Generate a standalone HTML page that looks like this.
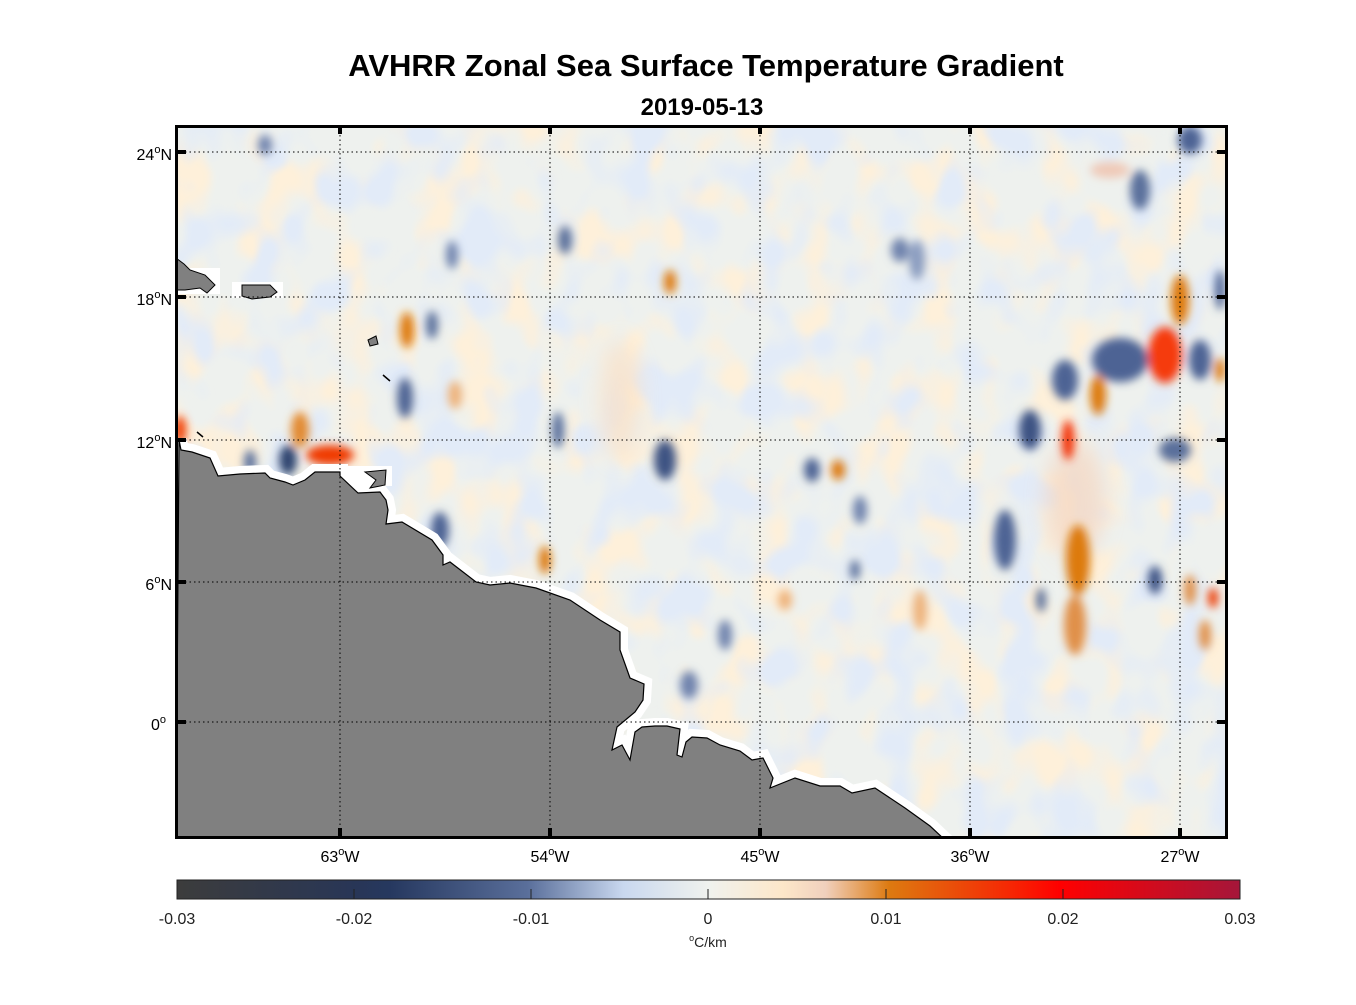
<!DOCTYPE html>
<html><head><meta charset="utf-8">
<style>
body{margin:0;background:#fff;width:1356px;height:1000px;overflow:hidden;font-family:"Liberation Sans",Arial,sans-serif}
</style></head><body>
<svg width="1356" height="1000" xmlns="http://www.w3.org/2000/svg" font-family="Liberation Sans, Arial, sans-serif">
<defs>
<clipPath id="pc"><rect x="176" y="126" width="1051" height="712"/></clipPath>
<filter id="bl" x="-50%" y="-50%" width="200%" height="200%"><feGaussianBlur stdDeviation="4.5"/></filter>
<filter id="bl3" x="-50%" y="-50%" width="200%" height="200%"><feGaussianBlur stdDeviation="10"/></filter>
<filter id="tor" x="0" y="0" width="100%" height="100%">
<feTurbulence type="fractalNoise" baseFrequency="0.024 0.019" numOctaves="2" seed="4"/>
<feColorMatrix type="matrix" values="0 0 0 0 0.99  0 0 0 0 0.87  0 0 0 0 0.70  4.5 0 0 0 -2.15"/>
<feGaussianBlur stdDeviation="2"/>
</filter>
<filter id="tbl" x="0" y="0" width="100%" height="100%">
<feTurbulence type="fractalNoise" baseFrequency="0.024 0.019" numOctaves="2" seed="11"/>
<feColorMatrix type="matrix" values="0 0 0 0 0.76  0 0 0 0 0.83  0 0 0 0 0.94  4.5 0 0 0 -2.15"/>
<feGaussianBlur stdDeviation="2"/>
</filter>
<linearGradient id="cb" x1="0" x2="1" y1="0" y2="0">
<stop offset="0" stop-color="#3c3c3c"/>
<stop offset="0.17" stop-color="#283657"/>
<stop offset="0.2" stop-color="#26385f"/>
<stop offset="0.33" stop-color="#5a6f9b"/>
<stop offset="0.42" stop-color="#c9d8ef"/>
<stop offset="0.5" stop-color="#f0f2ee"/>
<stop offset="0.57" stop-color="#fde7c9"/>
<stop offset="0.61" stop-color="#f0d0bd"/>
<stop offset="0.67" stop-color="#dd7a10"/>
<stop offset="0.78" stop-color="#f52a04"/>
<stop offset="0.83" stop-color="#ff0000"/>
<stop offset="1" stop-color="#a5163a"/>
</linearGradient>
</defs>
<text x="706" y="76" text-anchor="middle" font-size="31" font-weight="bold">AVHRR Zonal Sea Surface Temperature Gradient</text>
<text x="702" y="115" text-anchor="middle" font-size="24" font-weight="bold">2019-05-13</text>

<g clip-path="url(#pc)">
<rect x="176" y="126" width="1051" height="712" fill="#eef1ee"/>
<rect x="176" y="126" width="1051" height="712" filter="url(#tor)"/>
<rect x="176" y="126" width="1051" height="712" filter="url(#tbl)"/>
<g filter="url(#bl3)" opacity="0.7">
<ellipse cx="620" cy="400" rx="20" ry="60" fill="#fbe0c4"/>
<ellipse cx="1075" cy="500" rx="30" ry="60" fill="#f5d6c0"/>
</g>
<g filter="url(#bl)">
<ellipse cx="565" cy="240" rx="7" ry="14" fill="#5a6f9b"/>
<ellipse cx="452" cy="255" rx="6" ry="14" fill="#6f83ad"/>
<ellipse cx="407" cy="330" rx="7" ry="18" fill="#dd7a10"/>
<ellipse cx="432" cy="325" rx="6" ry="14" fill="#5a6f9b"/>
<ellipse cx="405" cy="398" rx="8" ry="20" fill="#4d6394"/>
<ellipse cx="455" cy="395" rx="7" ry="14" fill="#eeb27a"/>
<ellipse cx="670" cy="282" rx="6" ry="12" fill="#dd7a10"/>
<ellipse cx="558" cy="430" rx="6" ry="18" fill="#5a6f9b"/>
<ellipse cx="665" cy="460" rx="11" ry="20" fill="#3d5283"/>
<ellipse cx="812" cy="470" rx="8" ry="12" fill="#4d6394"/>
<ellipse cx="838" cy="470" rx="7" ry="10" fill="#dd7a10"/>
<ellipse cx="855" cy="570" rx="5" ry="10" fill="#5a6f9b"/>
<ellipse cx="545" cy="560" rx="6" ry="14" fill="#dd7a10"/>
<ellipse cx="440" cy="530" rx="9" ry="18" fill="#4d6394"/>
<ellipse cx="689" cy="685" rx="9" ry="14" fill="#6f83ad"/>
<ellipse cx="725" cy="635" rx="7" ry="15" fill="#6f83ad"/>
<ellipse cx="920" cy="610" rx="7" ry="20" fill="#eeb27a"/>
<ellipse cx="785" cy="600" rx="7" ry="10" fill="#eeb27a"/>
<ellipse cx="860" cy="510" rx="7" ry="14" fill="#6f83ad"/>
<ellipse cx="900" cy="250" rx="9" ry="12" fill="#6f83ad"/>
<ellipse cx="917" cy="260" rx="8" ry="20" fill="#8a9cc0"/>
<ellipse cx="1120" cy="360" rx="28" ry="22" fill="#4d6394"/>
<ellipse cx="1065" cy="380" rx="13" ry="20" fill="#4d6394"/>
<ellipse cx="1030" cy="430" rx="11" ry="20" fill="#3d5283"/>
<ellipse cx="1098" cy="395" rx="8" ry="20" fill="#dd7a10"/>
<ellipse cx="1068" cy="440" rx="6" ry="20" fill="#f22a04"/>
<ellipse cx="1165" cy="355" rx="17" ry="28" fill="#f53a08"/>
<ellipse cx="1180" cy="300" rx="9" ry="25" fill="#dd7a10"/>
<ellipse cx="1200" cy="360" rx="11" ry="20" fill="#4d6394"/>
<ellipse cx="1220" cy="370" rx="5" ry="12" fill="#dd7a10"/>
<ellipse cx="1175" cy="450" rx="16" ry="12" fill="#5a6f9b"/>
<ellipse cx="1005" cy="540" rx="11" ry="30" fill="#4d6394"/>
<ellipse cx="1078" cy="560" rx="12" ry="35" fill="#dd7a10"/>
<ellipse cx="1075" cy="625" rx="11" ry="30" fill="#e0904a"/>
<ellipse cx="1155" cy="580" rx="7" ry="14" fill="#3d5283"/>
<ellipse cx="1190" cy="590" rx="6" ry="15" fill="#e0904a"/>
<ellipse cx="1213" cy="598" rx="5" ry="10" fill="#ee3a05"/>
<ellipse cx="1205" cy="635" rx="6" ry="15" fill="#e0904a"/>
<ellipse cx="1041" cy="600" rx="5" ry="12" fill="#5a6f9b"/>
<ellipse cx="1220" cy="290" rx="5" ry="20" fill="#4d6394"/>
<ellipse cx="1140" cy="190" rx="10" ry="20" fill="#5a6f9b"/>
<ellipse cx="1110" cy="170" rx="20" ry="8" fill="#efc9b7"/>
<ellipse cx="300" cy="430" rx="9" ry="18" fill="#e28a30"/>
<ellipse cx="330" cy="455" rx="24" ry="10" fill="#f03a05"/>
<ellipse cx="288" cy="460" rx="9" ry="15" fill="#2e4470"/>
<ellipse cx="250" cy="462" rx="6" ry="12" fill="#5a6f9b"/>
<ellipse cx="180" cy="430" rx="6" ry="14" fill="#f03a05"/>
<ellipse cx="265" cy="145" rx="7" ry="10" fill="#6f83ad"/>
<ellipse cx="1190" cy="140" rx="12" ry="14" fill="#4d6394"/>
</g>
<g fill="#fff" stroke="#fff" stroke-width="16" stroke-linejoin="miter">
<polygon points="179,440 181,450 192,452 210,458 218,476 240,474 265,473 270,478 285,482 293,485 305,480 315,472 340,472 340,476 358,493 380,492 386,500 388,510 386,524 402,522 432,540 443,555 443,565 450,562 476,582 490,585 510,583 536,588 570,600 600,620 620,632 620,650 630,678 644,684 643,700 635,712 617,727 612,750 622,745 630,760 635,732 642,727 655,726 667,726 680,729 677,755 682,757 686,742 692,737 707,738 720,745 740,751 752,760 763,758 773,778 770,788 795,778 820,786 840,786 852,793 875,788 905,808 930,826 950,845 176,845"/>
</g>
<rect x="176" y="268" width="44" height="26" fill="#fff"/>
<rect x="232" y="282" width="51" height="16" fill="#fff"/>
<rect x="340" y="466" width="52" height="20" fill="#fff"/>
<polygon points="179,440 181,450 192,452 210,458 218,476 240,474 265,473 270,478 285,482 293,485 305,480 315,472 340,472 340,476 358,493 380,492 386,500 388,510 386,524 402,522 432,540 443,555 443,565 450,562 476,582 490,585 510,583 536,588 570,600 600,620 620,632 620,650 630,678 644,684 643,700 635,712 617,727 612,750 622,745 630,760 635,732 642,727 655,726 667,726 680,729 677,755 682,757 686,742 692,737 707,738 720,745 740,751 752,760 763,758 773,778 770,788 795,778 820,786 840,786 852,793 875,788 905,808 930,826 945,840 176,840" fill="#808080" stroke="#000" stroke-width="1.2"/>
<polygon points="365,472 386,470 385,485 370,488 376,480" fill="#808080" stroke="#000" stroke-width="1"/>
<polygon points="176,258 184,264 190,270 205,275 215,285 207,293 200,288 185,290 176,290" fill="#808080" stroke="#000" stroke-width="1"/>
<polygon points="242,285 270,285 277,292 270,297 252,299 242,296" fill="#808080" stroke="#000" stroke-width="1"/>
<polygon points="368,340 376,336 378,344 370,346" fill="#808080" stroke="#000" stroke-width="1"/>
<line x1="383" y1="375" x2="390" y2="381" stroke="#000" stroke-width="1.5"/>
<line x1="197" y1="432" x2="203" y2="437" stroke="#000" stroke-width="1.5"/>
</g>
<g stroke="#000" stroke-width="1" stroke-dasharray="1.5,3">
<line x1="176" y1="152" x2="1227" y2="152"/>
<line x1="176" y1="297" x2="1227" y2="297"/>
<line x1="176" y1="440" x2="1227" y2="440"/>
<line x1="176" y1="582" x2="1227" y2="582"/>
<line x1="176" y1="722" x2="1227" y2="722"/>
<line x1="340" y1="126" x2="340" y2="838"/>
<line x1="550" y1="126" x2="550" y2="838"/>
<line x1="760" y1="126" x2="760" y2="838"/>
<line x1="970" y1="126" x2="970" y2="838"/>
<line x1="1180" y1="126" x2="1180" y2="838"/>
</g>
<rect x="176.5" y="126.5" width="1050" height="711" fill="none" stroke="#000" stroke-width="3"/>
<g stroke="#000" stroke-width="4">
<line x1="176" y1="152" x2="186" y2="152"/><line x1="1217" y1="152" x2="1227" y2="152"/>
<line x1="176" y1="297" x2="186" y2="297"/><line x1="1217" y1="297" x2="1227" y2="297"/>
<line x1="176" y1="440" x2="186" y2="440"/><line x1="1217" y1="440" x2="1227" y2="440"/>
<line x1="176" y1="582" x2="186" y2="582"/><line x1="1217" y1="582" x2="1227" y2="582"/>
<line x1="176" y1="722" x2="186" y2="722"/><line x1="1217" y1="722" x2="1227" y2="722"/>
<line x1="340" y1="828" x2="340" y2="838"/><line x1="340" y1="126" x2="340" y2="134"/>
<line x1="550" y1="828" x2="550" y2="838"/><line x1="550" y1="126" x2="550" y2="134"/>
<line x1="760" y1="828" x2="760" y2="838"/><line x1="760" y1="126" x2="760" y2="134"/>
<line x1="970" y1="828" x2="970" y2="838"/><line x1="970" y1="126" x2="970" y2="134"/>
<line x1="1180" y1="828" x2="1180" y2="838"/><line x1="1180" y1="126" x2="1180" y2="134"/>
</g>
<g font-size="16" text-anchor="end">
<text x="172" y="160">24<tspan font-size="11" dy="-7">o</tspan><tspan dy="7">N</tspan></text>
<text x="172" y="305">18<tspan font-size="11" dy="-7">o</tspan><tspan dy="7">N</tspan></text>
<text x="172" y="448">12<tspan font-size="11" dy="-7">o</tspan><tspan dy="7">N</tspan></text>
<text x="172" y="590">6<tspan font-size="11" dy="-7">o</tspan><tspan dy="7">N</tspan></text>
<text x="166" y="730">0<tspan font-size="11" dy="-7">o</tspan></text>
</g>
<g font-size="16" text-anchor="middle">
<text x="340" y="862">63<tspan font-size="11" dy="-7">o</tspan><tspan dy="7">W</tspan></text>
<text x="550" y="862">54<tspan font-size="11" dy="-7">o</tspan><tspan dy="7">W</tspan></text>
<text x="760" y="862">45<tspan font-size="11" dy="-7">o</tspan><tspan dy="7">W</tspan></text>
<text x="970" y="862">36<tspan font-size="11" dy="-7">o</tspan><tspan dy="7">W</tspan></text>
<text x="1180" y="862">27<tspan font-size="11" dy="-7">o</tspan><tspan dy="7">W</tspan></text>
</g>
<rect x="177" y="880" width="1063" height="19" fill="url(#cb)" stroke="#222" stroke-width="1"/>
<g stroke="#222" stroke-width="1">
<line x1="354" y1="889" x2="354" y2="899"/><line x1="531" y1="889" x2="531" y2="899"/>
<line x1="708" y1="889" x2="708" y2="899"/><line x1="886" y1="889" x2="886" y2="899"/>
<line x1="1063" y1="889" x2="1063" y2="899"/>
</g>
<g font-size="16" text-anchor="middle" fill="#222">
<text x="177" y="924">-0.03</text><text x="354" y="924">-0.02</text><text x="531" y="924">-0.01</text>
<text x="708" y="924">0</text><text x="886" y="924">0.01</text><text x="1063" y="924">0.02</text><text x="1240" y="924">0.03</text>
<text x="708" y="947" font-size="14"><tspan font-size="9" dy="-6">o</tspan><tspan dy="6">C/km</tspan></text>
</g>
</svg>
</body></html>
